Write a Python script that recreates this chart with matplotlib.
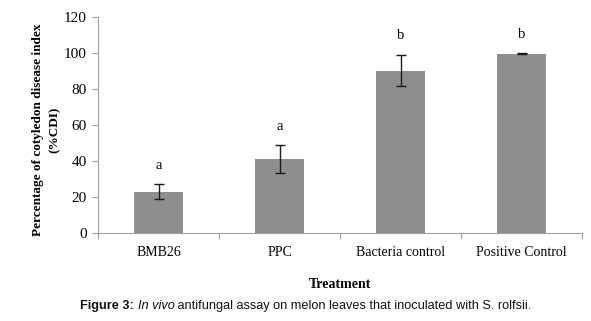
import matplotlib
matplotlib.use("Agg")
import matplotlib.pyplot as plt
import numpy as np

treatments = ["BMB26", "PPC", "Bacteria control", "Positive Control"]
cdi_mean = [23, 41, 90.2, 99.5]
cdi_err = [4.2, 7.7, 8.7, 0.3]
groups = ["a", "a", "b", "b"]

W, H = 591, 321
fig = plt.figure(figsize=(W / 100, H / 100), dpi=100)
ax = fig.add_axes([98 / W, 1 - 233 / H, 484 / W, 216 / H])

serif = "Liberation Serif"
x = np.arange(len(treatments))
ax.bar(x, cdi_mean, width=0.4, color="#8e8e8e", zorder=2)
ax.errorbar(x, cdi_mean, yerr=cdi_err, fmt="none", ecolor="#1a1a1a",
            elinewidth=1.0, capsize=3.5, capthick=1.0, zorder=3)
for xi, m, e, g in zip(x, cdi_mean, cdi_err, groups):
    ax.annotate(g, (xi, m + e), xytext=(0, 9), textcoords="offset points",
                ha="center", va="bottom", fontsize=10.5, family=serif)

ax.set_xlim(-0.5, len(treatments) - 0.5)
ax.set_ylim(0, 120)
ax.set_yticks(range(0, 121, 20))
ax.set_yticklabels([str(v) for v in range(0, 121, 20)], family=serif, fontsize=11)
ax.set_xticks(x)
ax.set_xticklabels(treatments, family=serif, fontsize=10)
ax.set_xticks(np.arange(-0.5, len(treatments), 1.0), minor=True)
ax.tick_params(axis="x", which="major", length=0, pad=9)
ax.tick_params(axis="x", which="minor", length=4, color="#a0a0a0", width=0.8)
ax.tick_params(axis="y", length=4, color="#a0a0a0", width=0.8, pad=4)
for s in ["top", "right"]:
    ax.spines[s].set_visible(False)
for s in ["left", "bottom"]:
    ax.spines[s].set_color("#a0a0a0")
    ax.spines[s].set_linewidth(0.8)

fig.text(46 / W, 1 - 130 / H, "Percentage of cotyledon disease index\n(%CDI)",
         rotation=90, ha="center", va="center", family=serif,
         fontweight="bold", fontsize=9.5, linespacing=1.5)
fig.text(340 / W, 1 - 285 / H, "Treatment", ha="center", va="center",
         family=serif, fontweight="bold", fontsize=10)

# caption built from pieces in different styles
pieces = [("Figure 3: ", "bold", "normal"), ("In vivo", "normal", "italic"),
          (" antifungal assay on melon leaves that inoculated with S. rolfsii.", "normal", "normal")]
fig.canvas.draw()
r = fig.canvas.get_renderer()
widths = []
objs = []
for txt, wt, st in pieces:
    t = fig.text(0, 1 - 306 / H, txt, family="Liberation Sans", fontsize=9.2,
                 fontweight=wt, fontstyle=st, va="center", ha="left", color="#111111")
    objs.append(t)
    widths.append(t.get_window_extent(r).width)
x0 = 306 - sum(widths) / 2
for t, w in zip(objs, widths):
    t.set_x(x0 / W)
    x0 += w

fig.savefig("out.png", dpi=100)
